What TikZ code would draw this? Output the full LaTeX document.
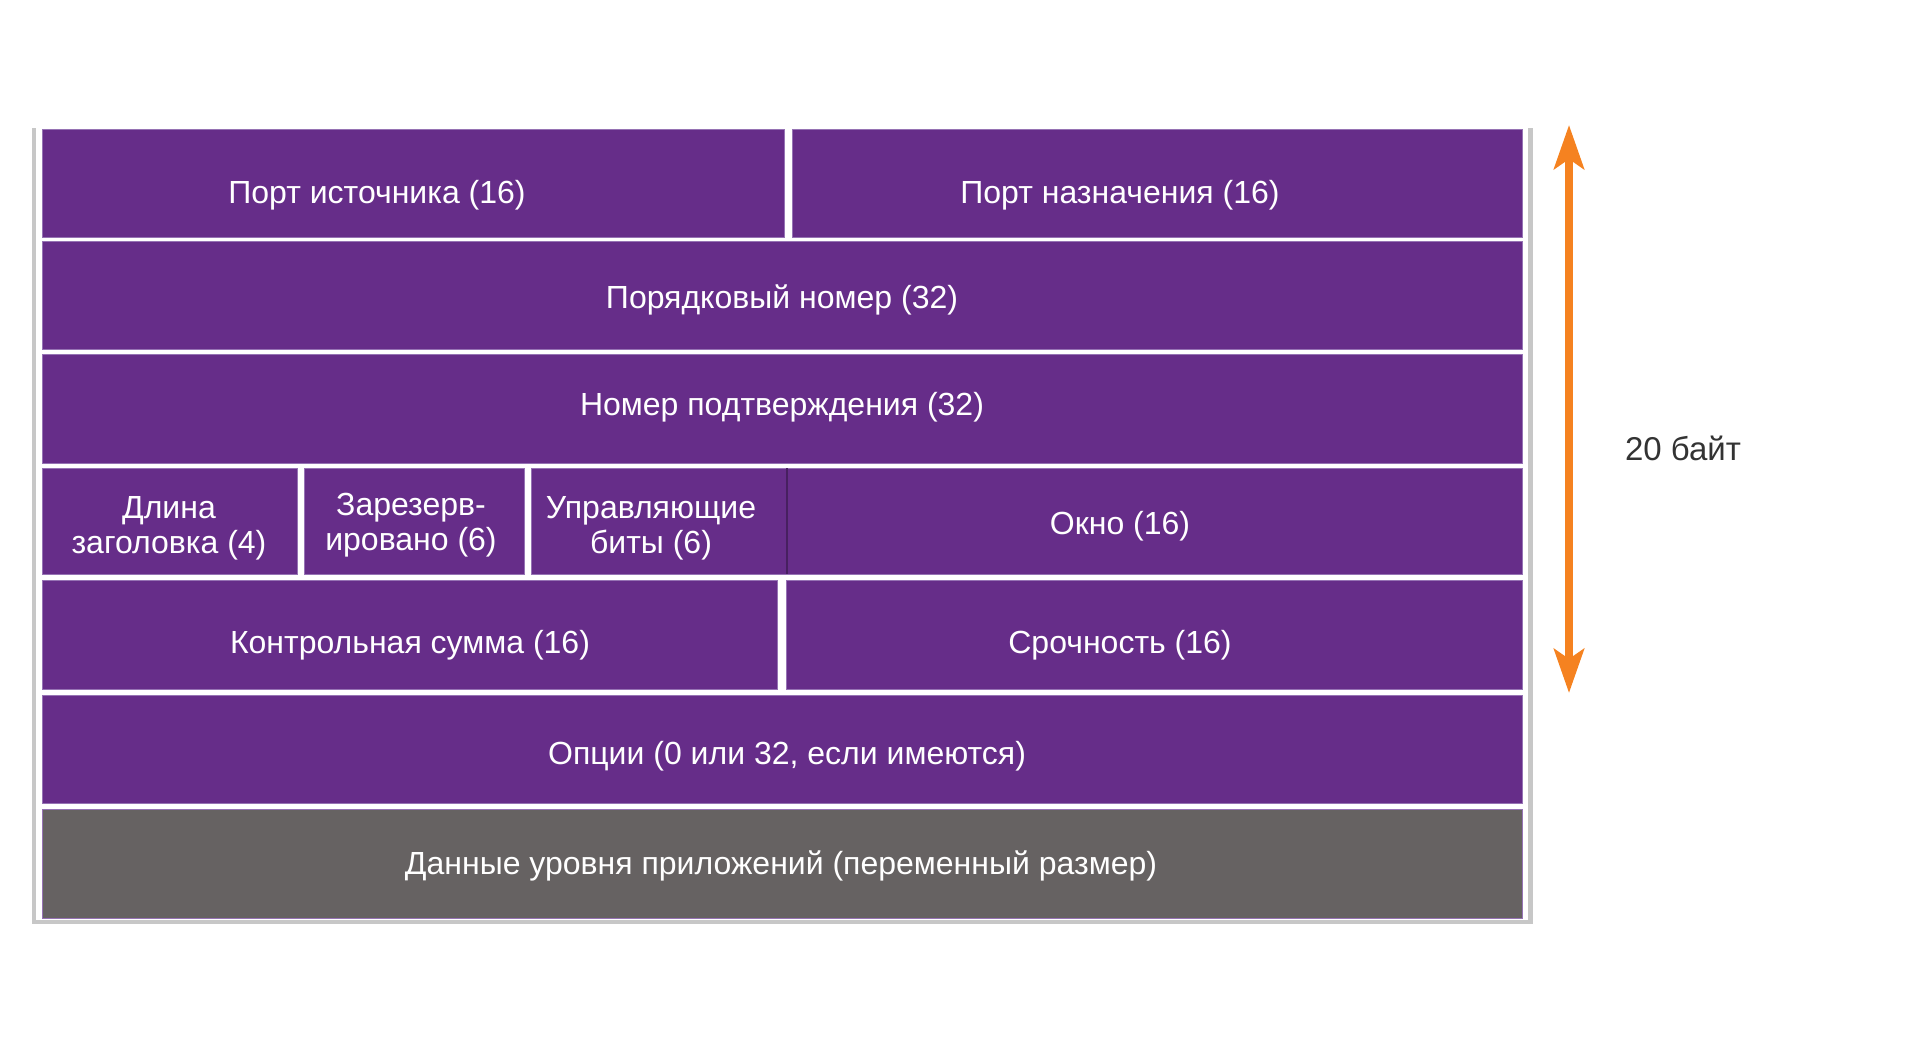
\documentclass[tikz,border=0pt]{standalone}
\usepackage{fontspec}
\setmainfont{Liberation Sans}
\usetikzlibrary{arrows.meta}
\definecolor{cpurple}{RGB}{102,45,137}
\definecolor{cedge}{RGB}{150,115,180}
\definecolor{cgray}{RGB}{102,98,98}
\definecolor{corange}{RGB}{245,130,32}
\definecolor{ctext}{RGB}{51,51,51}
\newcommand{\mycell}[6]{\node[cellbox,fill=#6,minimum width={#4-#2},minimum height={#5-#3}] (#1) at ({(#2+#4)/2},{(#3+#5)/2}) {};}
\begin{document}
\begin{tikzpicture}[x=1pt,y=-1pt,
  cellbox/.style={draw=cedge,line width=0.8pt,inner sep=0pt,outer sep=0pt},
  lbl/.style={text=white,font=\fontsize{32}{35}\selectfont,align=center,inner sep=0pt}]
\useasboundingbox (0,0) rectangle (1920,1046);
% card with shadow
\path[fill=black!22] (32,128) rectangle (1533,924);
\path[fill=white] (36,123) rectangle (1528,920);
% row 1
\mycell{r1a}{42.7}{129}{784}{237}{cpurple}
\mycell{r1b}{792}{129}{1522}{237}{cpurple}
% row 2, 3
\mycell{r2}{42.7}{241}{1522}{349}{cpurple}
\mycell{r3}{42.7}{354}{1522}{463}{cpurple}
% row 4
\mycell{r4a}{42.7}{468}{297}{574}{cpurple}
\mycell{r4b}{304}{468}{524}{574}{cpurple}
\mycell{r4c}{531}{468}{787}{574}{cpurple}
\mycell{r4d}{787}{468}{1522}{574}{cpurple}
\draw[cpurple!70!black,line width=1.5pt] (r4c.north east) -- (r4c.south east);
% row 5
\mycell{r5a}{42.7}{580}{777}{689}{cpurple}
\mycell{r5b}{786}{580}{1522}{689}{cpurple}
% row 6, 7
\mycell{r6}{42.7}{695}{1522}{803}{cpurple}
\mycell{r7}{42.7}{809}{1522}{918}{cgray}
% labels
\node[lbl] (t1a) at (377,195) {Порт источника (16)};
\node[lbl] (t1b) at (1120,195) {Порт назначения (16)};
\node[lbl] (t2) at (782,300) {Порядковый номер (32)};
\node[lbl] (t3) at (782,407) {Номер подтверждения (32)};
\node[lbl] (t4a) at (169,528) {Длина\\заголовка (4)};
\node[lbl] (t4b) at (411,525) {Зарезерв-\\ировано (6)};
\node[lbl] (t4c) at (651,528) {Управляющие\\биты (6)};
\node[lbl] (t4d) at (1120,526) {Окно (16)};
\node[lbl] (t5a) at (410,645) {Контрольная сумма (16)};
\node[lbl] (t5b) at (1120,645) {Срочность (16)};
\node[lbl] (t6) at (787,756) {Опции (0 или 32, если имеются)};
\node[lbl] (t7) at (781,866) {Данные уровня приложений (переменный размер)};
% arrow
\coordinate (atop) at (1569,125);
\coordinate (abot) at (1569,693);
\draw[corange,line width=8pt,{Stealth[length=44pt,width=30pt,inset=10pt]}-{Stealth[length=44pt,width=30pt,inset=10pt]}] (atop) -- (abot);
\node[text=ctext,font=\fontsize{33}{38}\selectfont,inner sep=0pt] (size) at (1683,448) {20 байт};
\end{tikzpicture}
\end{document}
